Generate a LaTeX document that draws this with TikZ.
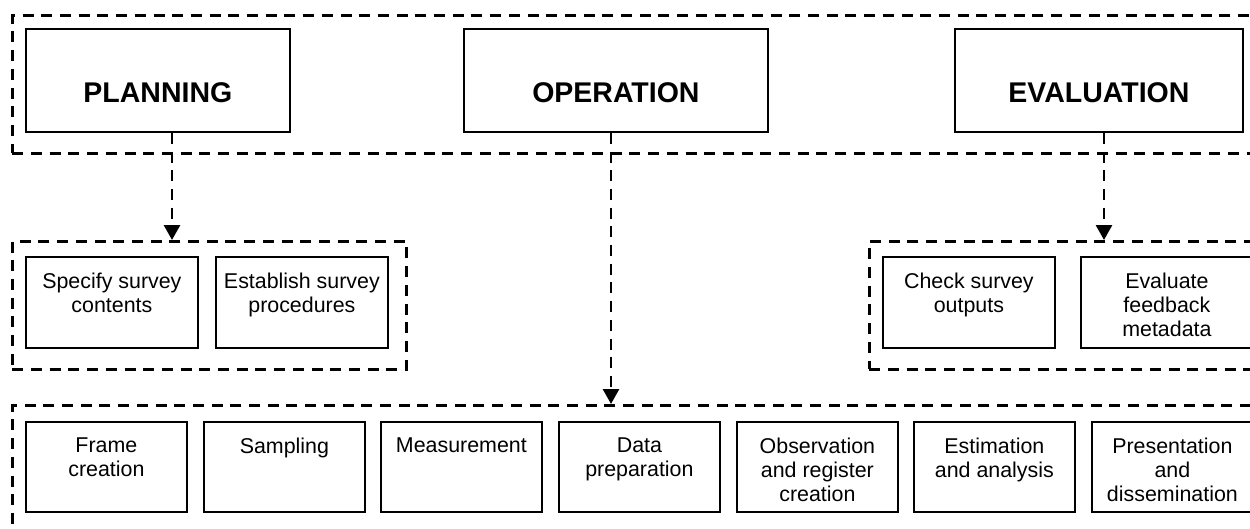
\documentclass[tikz,border=0pt]{standalone}
\usepackage{fontspec}
\setmainfont{Liberation Sans}
\usetikzlibrary{arrows.meta}

\newcommand\cellbox[4]{\parbox[c][#1][t]{#2}{\centering\vspace*{#3}#4}}

\begin{document}
\begin{tikzpicture}[x=1pt, y=-1pt,
  groupframe/.style={draw, line width=2.6pt, dash pattern=on 11pt off 7.7pt,
    inner sep=0pt, anchor=north west},
  stagebox/.style={draw, line width=1.8pt, inner sep=0pt, anchor=north west,
    font=\fontsize{28.5}{32}\selectfont\bfseries},
  taskbox/.style={draw, line width=1.8pt, inner sep=0pt, anchor=north west,
    font=\fontsize{21.4}{24}\selectfont},
  flow/.style={line width=2.8pt, dash pattern=on 11pt off 7.7pt,
    -{Triangle[width=16pt,length=15pt]}}]

\clip (0,0) rectangle (1250,528);

% dashed group frames
\node[groupframe, minimum width=1260pt, minimum height=138pt] (stages) at (11,14) {};
\node[groupframe, minimum width=394pt, minimum height=128pt] (plangroup) at (11,240) {};
\node[groupframe, minimum width=400pt, minimum height=128pt] (evalgroup) at (868,240) {};
\node[groupframe, minimum width=1260pt, minimum height=140pt] (opgroup) at (11,404) {};

% the three stages
\node[stagebox] (plan) at (25,28) {\cellbox{103pt}{264pt}{54pt}{PLANNING}};
\node[stagebox] (oper) at (463,28) {\cellbox{103pt}{304pt}{54pt}{OPERATION}};
\node[stagebox] (eval) at (954,28) {\cellbox{103pt}{288pt}{54pt}{EVALUATION}};

% planning tasks
\node[taskbox] (spec) at (25,256) {\cellbox{91pt}{172pt}{16pt}{Specify survey\\contents}};
\node[taskbox] (estab) at (215,256) {\cellbox{91pt}{172pt}{16pt}{Establish survey\\procedures}};

% evaluation tasks
\node[taskbox] (check) at (882,256) {\cellbox{91pt}{172pt}{16pt}{Check survey\\outputs}};
\node[taskbox] (feed) at (1080,256) {\cellbox{91pt}{172pt}{16pt}{Evaluate\\feedback\\metadata}};

% operation tasks
\node[taskbox] (frame) at (25,421) {\cellbox{90pt}{161pt}{16pt}{Frame\\creation}};
\node[taskbox] (samp) at (203,421) {\cellbox{90pt}{161pt}{16pt}{Sampling}};
\node[taskbox] (meas) at (380,421) {\cellbox{90pt}{161pt}{16pt}{Measurement}};
\node[taskbox] (prep) at (558,421) {\cellbox{90pt}{161pt}{16pt}{Data\\preparation}};
\node[taskbox] (obs) at (736,421) {\cellbox{90pt}{161pt}{16pt}{Observation\\and register\\creation}};
\node[taskbox] (est) at (913,421) {\cellbox{90pt}{161pt}{16pt}{Estimation\\and analysis}};
\node[taskbox] (pres) at (1091,421) {\cellbox{90pt}{161pt}{16pt}{Presentation\\and\\dissemination}};

% connector columns
\coordinate (planx) at (172,0);
\coordinate (operx) at (611,0);
\coordinate (evalx) at (1104,0);

\draw[flow] (plan.south -| planx) -- (plangroup.north -| planx);
\draw[flow] (oper.south -| operx) -- (opgroup.north -| operx);
\draw[flow] (eval.south -| evalx) -- (evalgroup.north -| evalx);

\end{tikzpicture}
\end{document}
